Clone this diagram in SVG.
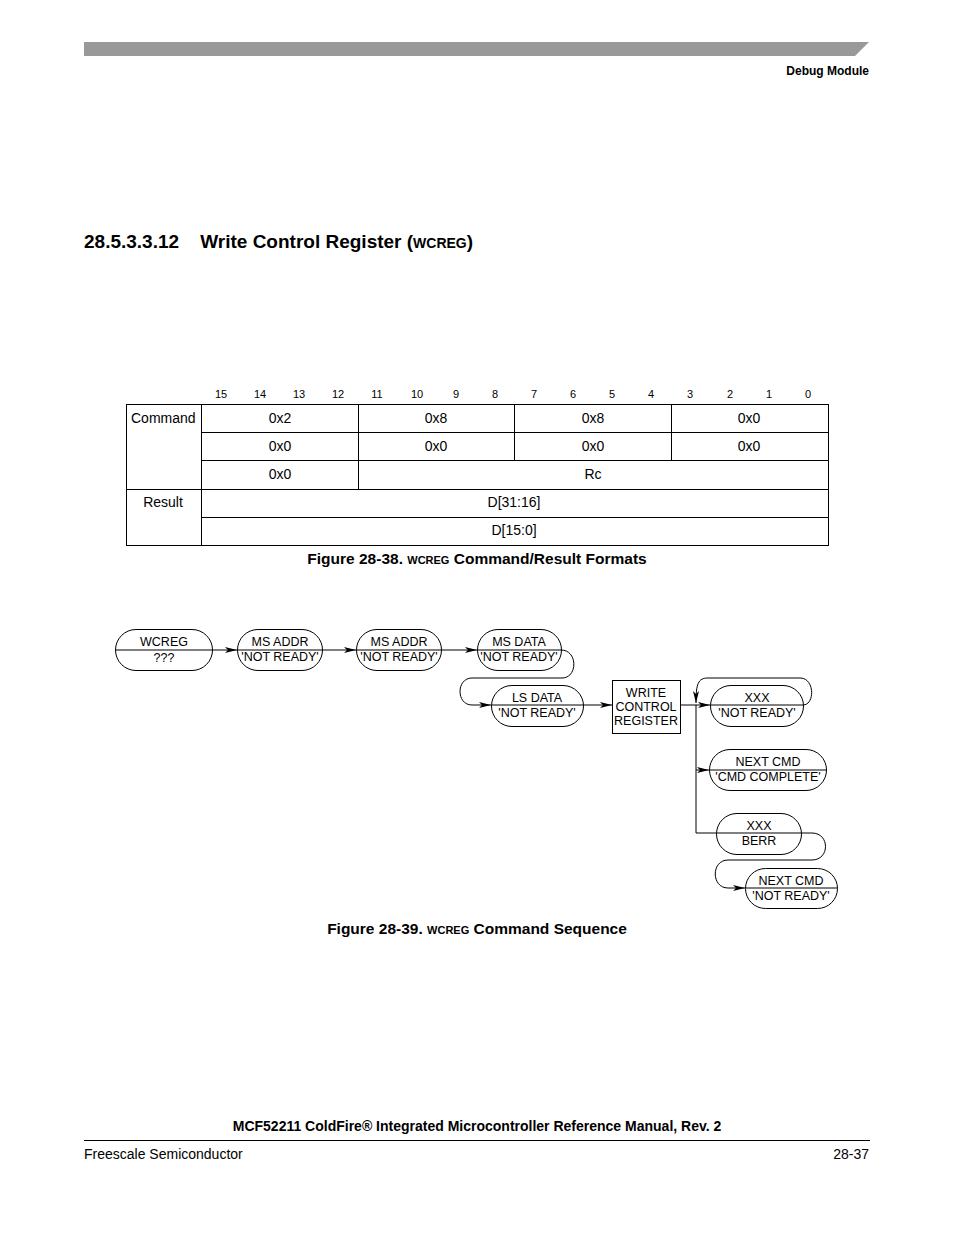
<svg xmlns="http://www.w3.org/2000/svg" width="954" height="1235" viewBox="0 0 954 1235">
<style>
text{font-family:"Liberation Sans",Arial,sans-serif;fill:#000}
.b{font-weight:bold}
.t{font-size:14px}
.cap{font-size:15.5px;font-weight:bold;text-anchor:middle}
.bit{font-size:11px;text-anchor:middle}
.c{text-anchor:middle}
.s{font-size:12.5px;text-anchor:middle}
.ln{fill:none;stroke:#000;stroke-width:1}
.ov{fill:#fff;stroke:#000;stroke-width:1}
</style>
<defs>
<marker id="ah" viewBox="0 0 12 6" refX="12" refY="3" markerWidth="12" markerHeight="6" markerUnits="userSpaceOnUse" orient="auto">
<path d="M0,0 L12,3 L0,6 L3,3 Z" fill="#000"/>
</marker>
</defs>
<rect width="954" height="1235" fill="#fff"/>
<!-- header -->
<polygon points="84,42 869,42 855,56 84,56" fill="#999"/>
<text x="869" y="75" class="b" font-size="12" text-anchor="end">Debug Module</text>
<text x="84" y="248" class="b" font-size="19" xml:space="preserve">28.5.3.3.12    Write Control Register (<tspan font-size="14">WCREG</tspan>)</text>

<!-- table -->
<g id="bits">
<text class="bit" x="221" y="398">15</text><text class="bit" x="260" y="398">14</text><text class="bit" x="299" y="398">13</text><text class="bit" x="338" y="398">12</text>
<text class="bit" x="377" y="398">11</text><text class="bit" x="417" y="398">10</text><text class="bit" x="456" y="398">9</text><text class="bit" x="495" y="398">8</text>
<text class="bit" x="534" y="398">7</text><text class="bit" x="573" y="398">6</text><text class="bit" x="612" y="398">5</text><text class="bit" x="651" y="398">4</text>
<text class="bit" x="690" y="398">3</text><text class="bit" x="730" y="398">2</text><text class="bit" x="769" y="398">1</text><text class="bit" x="808" y="398">0</text>
</g>
<g id="table">
<rect x="126.5" y="404.5" width="702" height="141" class="ln"/>
<path class="ln" d="M201.5,404.5 V545.5 M201.5,432.5 H828.5 M201.5,460.5 H828.5 M126.5,489.5 H828.5 M201.5,517.5 H828.5 M358.5,404.5 V489.5 M514.5,404.5 V460.5 M671.5,404.5 V460.5"/>
<text class="t" x="131" y="423">Command</text>
<text class="t c" x="163" y="507">Result</text>
<text class="t c" x="280" y="423">0x2</text><text class="t c" x="436" y="423">0x8</text><text class="t c" x="593" y="423">0x8</text><text class="t c" x="749" y="423">0x0</text>
<text class="t c" x="280" y="451">0x0</text><text class="t c" x="436" y="451">0x0</text><text class="t c" x="593" y="451">0x0</text><text class="t c" x="749" y="451">0x0</text>
<text class="t c" x="280" y="479">0x0</text><text class="t c" x="593" y="479">Rc</text>
<text class="t c" x="514" y="507">D[31:16]</text>
<text class="t c" x="514" y="535">D[15:0]</text>
</g>
<text class="cap" x="477" y="564">Figure 28-38. <tspan font-size="11">WCREG</tspan> Command/Result Formats</text>

<!-- sequence -->
<g id="connectors">
<path class="ln" d="M212,650 H237" marker-end="url(#ah)"/>
<path class="ln" d="M322,650 H356" marker-end="url(#ah)"/>
<path class="ln" d="M440,650 H477" marker-end="url(#ah)"/>
<path class="ln" d="M561,650 C578,650 578,678 562,678 L472,678 C456,678 456,705 472,705 L491,705" marker-end="url(#ah)"/>
<path class="ln" d="M583,705 H612" marker-end="url(#ah)"/>
<path class="ln" d="M680,705 H710" marker-end="url(#ah)"/>
<path class="ln" d="M696,705 V833 H716"/>
<path class="ln" d="M696,770 H709" marker-end="url(#ah)"/>
<path class="ln" d="M803,705 C815,705 815,678 800,678 L708,678 C698,678 696,684 696,703" marker-end="url(#ah)"/>
<path class="ln" d="M801,833 H812 C830,833 830,860 812,860 L728,860 C711,860 711,888 728,888 L745,888" marker-end="url(#ah)"/>
</g>
<g id="n-wcreg"><rect class="ov" x="115.5" y="629.5" width="97" height="41" rx="20.5"/><path class="ln" d="M115.5,650 H212.5"/><text class="s" x="164" y="646">WCREG</text><text class="s" x="164" y="662">???</text></g>
<g id="n-msaddr1"><rect class="ov" x="237.5" y="629.5" width="85" height="41" rx="20.5"/><path class="ln" d="M237.5,650 H322.5"/><text class="s" x="280" y="646">MS ADDR</text><text class="s" x="280" y="661">'NOT READY'</text></g>
<g id="n-msaddr2"><rect class="ov" x="356.5" y="629.5" width="85" height="41" rx="20.5"/><path class="ln" d="M356.5,650 H441.5"/><text class="s" x="399" y="646">MS ADDR</text><text class="s" x="399" y="661">'NOT READY'</text></g>
<g id="n-msdata"><rect class="ov" x="477.5" y="629.5" width="84" height="41" rx="20.5"/><path class="ln" d="M477.5,650 H561.5"/><text class="s" x="519" y="646">MS DATA</text><text class="s" x="519" y="661">'NOT READY'</text></g>
<g id="n-lsdata"><rect class="ov" x="491.5" y="685.5" width="92" height="41" rx="20.5"/><path class="ln" d="M491.5,705 H583.5"/><text class="s" x="537" y="702">LS DATA</text><text class="s" x="537" y="717">'NOT READY'</text></g>
<g id="n-wcr"><rect class="ov" x="612.5" y="680.5" width="68" height="53"/><text class="s" x="646" y="697">WRITE</text><text class="s" x="646" y="711">CONTROL</text><text class="s" x="646" y="725">REGISTER</text></g>
<g id="n-xxx"><rect class="ov" x="710.5" y="685.5" width="93" height="41" rx="20.5"/><path class="ln" d="M710.5,705 H803.5"/><text class="s" x="757" y="702">XXX</text><text class="s" x="757" y="717">'NOT READY'</text></g>
<g id="n-nextcmd1"><rect class="ov" x="709.5" y="749.5" width="117" height="41" rx="20.5"/><path class="ln" d="M709.5,770 H826.5"/><text class="s" x="768" y="766">NEXT CMD</text><text class="s" x="768" y="781">'CMD COMPLETE'</text></g>
<g id="n-berr"><rect class="ov" x="716.5" y="813.5" width="85" height="41" rx="20.5"/><path class="ln" d="M716.5,833 H801.5"/><text class="s" x="759" y="830">XXX</text><text class="s" x="759" y="845">BERR</text></g>
<g id="n-nextcmd2"><rect class="ov" x="745.5" y="868.5" width="92" height="40" rx="20"/><path class="ln" d="M745.5,888 H837.5"/><text class="s" x="791" y="885">NEXT CMD</text><text class="s" x="791" y="900">'NOT READY'</text></g>
<text class="cap" x="477" y="934">Figure 28-39. <tspan font-size="11">WCREG</tspan> Command Sequence</text>

<!-- footer -->
<text class="b t c" x="477" y="1131">MCF52211 ColdFire® Integrated Microcontroller Reference Manual, Rev. 2</text>
<path d="M84,1140.5 H870" stroke="#000" stroke-width="1"/>
<text class="t" x="84" y="1159">Freescale Semiconductor</text>
<text class="t" x="869" y="1159" text-anchor="end">28-37</text>
</svg>
